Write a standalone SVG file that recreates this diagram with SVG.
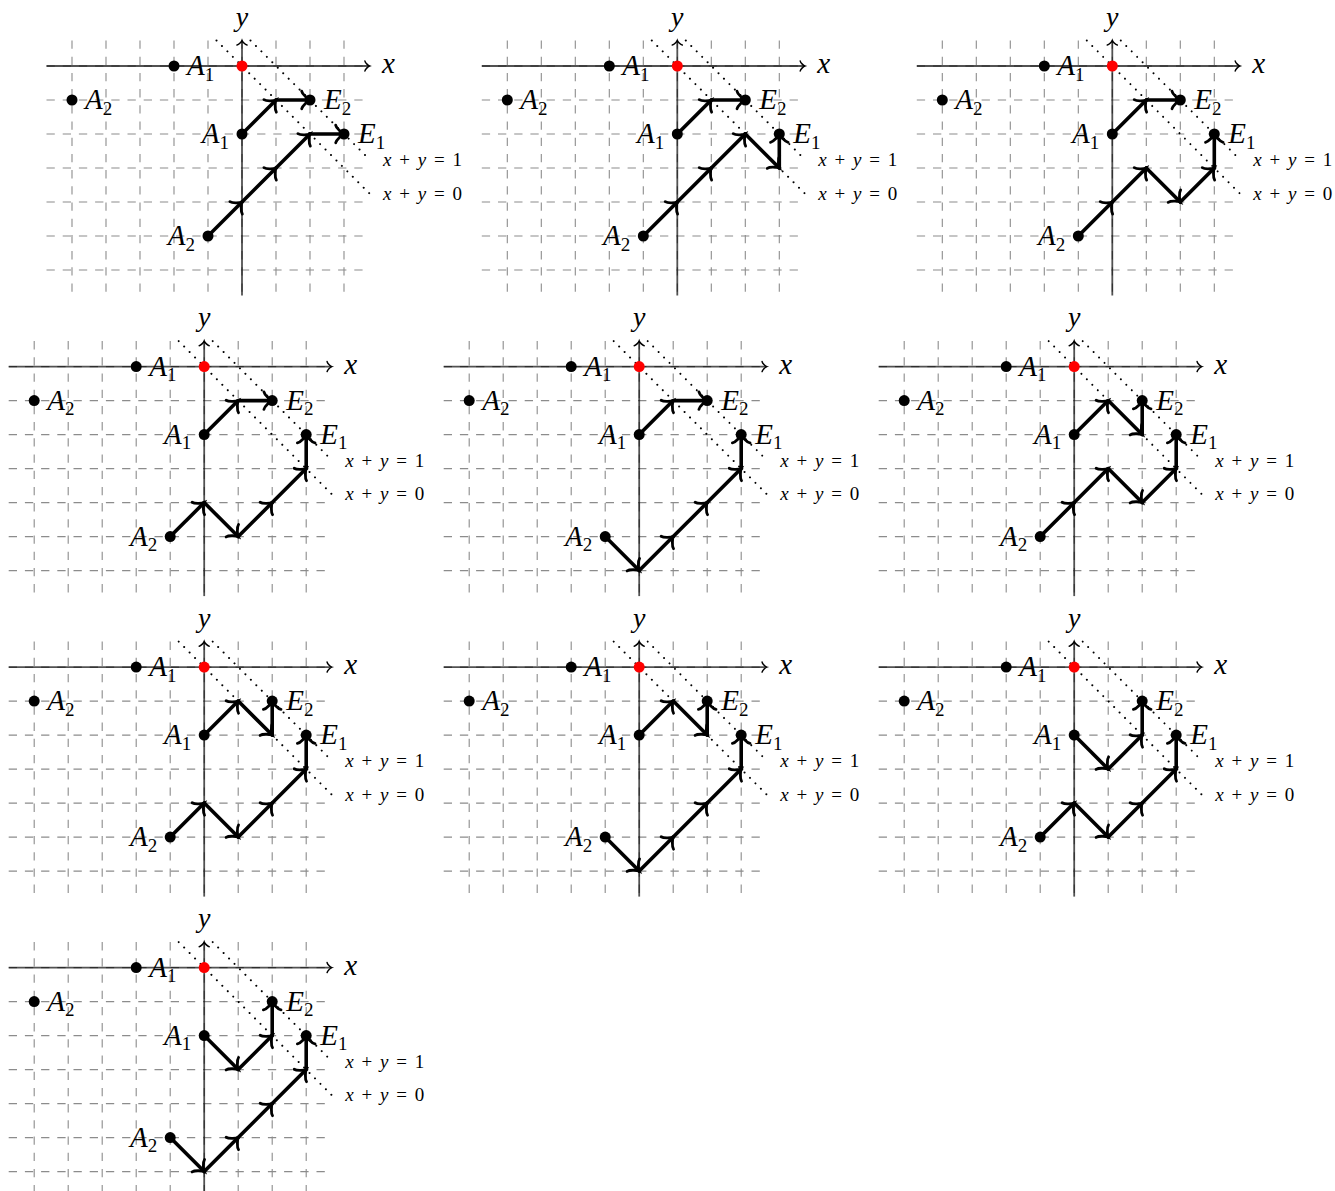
<svg xmlns="http://www.w3.org/2000/svg" width="1335" height="1191" viewBox="0 0 1335 1191" font-family="Liberation Serif">
<style>
.gr{stroke:#8c8c8c;stroke-width:1.1;stroke-dasharray:8.3 7.9;fill:none}
.ax{stroke:#000;stroke-opacity:0.68;stroke-width:1.8;fill:none}
.dt{stroke:#000;stroke-width:2;stroke-dasharray:0.01 7.7;stroke-linecap:round;fill:none}
.cn line{stroke:#000;stroke-width:3.6;stroke-linecap:round;marker-end:url(#ah)}
.pt{fill:#000}
.org{fill:#f00}
.lb{font-style:italic;font-size:29px;fill:#000}
.yl{font-style:italic;font-size:28px;fill:#000}
.sub{font-style:normal;font-size:19px}
.eq{font-size:19px;fill:#000}
.it{font-style:italic}
</style>
<defs>
<marker id="ah" markerUnits="userSpaceOnUse" orient="auto" overflow="visible" markerWidth="1" markerHeight="1" refX="0" refY="0">
<path d="M-8.3,-8.8 C-7.7,-5.5 -1.7,-0.6 0,0 C-1.7,0.6 -7.7,5.5 -8.3,8.8" fill="none" stroke="#000" stroke-width="2.8" stroke-linecap="round"/>
</marker>
<marker id="axh" markerUnits="userSpaceOnUse" orient="auto" overflow="visible" markerWidth="1" markerHeight="1" refX="0" refY="0">
<path d="M-4.6,-5 C-4.3,-3.1 -0.9,-0.3 0,0 C-0.9,0.3 -4.3,3.1 -4.6,5" fill="none" stroke="#000" stroke-width="1.5" stroke-linecap="round"/>
</marker>
<g id="base">
<path class="gr" d="M-195.5 0H127.5M-195.5 34H127.5M-195.5 68H127.5M-195.5 102H127.5M-195.5 136H127.5M-195.5 170H127.5M-195.5 204H127.5"/>
<path class="gr" d="M-170 -25.5V229.5M-136 -25.5V229.5M-102 -25.5V229.5M-68 -25.5V229.5M-34 -25.5V229.5M0 -25.5V229.5M34 -25.5V229.5M68 -25.5V229.5M102 -25.5V229.5"/>
<line class="ax" x1="-195.5" y1="0" x2="127.5" y2="0" marker-end="url(#axh)"/>
<line class="ax" x1="0" y1="229.5" x2="0" y2="-25.5" marker-end="url(#axh)"/>
<line class="dt" x1="-25.5" y1="-25.5" x2="127.5" y2="127.5"/>
<line class="dt" x1="8.5" y1="-25.5" x2="127.5" y2="93.5"/>
</g>
</defs>

<!-- Panel 1 -->
<g id="panel-1" transform="translate(242,66)" font-family="Liberation Serif">
<use href="#base"/>
<g id="p1-connectors" class="cn">
<line x1="0" y1="68" x2="34" y2="34"/><line x1="34" y1="34" x2="68" y2="34"/>
<line x1="-34" y1="170" x2="0" y2="136"/><line x1="0" y1="136" x2="34" y2="102"/><line x1="34" y1="102" x2="68" y2="68"/><line x1="68" y1="68" x2="102" y2="68"/>
</g>
<text class="lb" x="140" y="7">x</text><text class="yl" x="0" y="-40.5" text-anchor="middle">y</text>
<text class="eq" x="141" y="100" textLength="79" lengthAdjust="spacing"><tspan class="it">x</tspan> + <tspan class="it">y</tspan> = 1</text>
<text class="eq" x="141" y="133.5" textLength="79" lengthAdjust="spacing"><tspan class="it">x</tspan> + <tspan class="it">y</tspan> = 0</text>
<g id="p1-A1-axis"><circle class="pt" cx="-68" cy="0" r="5.5"/><text class="lb" x="-55" y="9">A<tspan class="sub" dy="5.5">1</tspan></text></g>
<g id="p1-A2-top"><circle class="pt" cx="-170" cy="34" r="5.5"/><text class="lb" x="-157" y="43">A<tspan class="sub" dy="5.5">2</tspan></text></g>
<g id="p1-A1"><circle class="pt" cx="0" cy="68" r="5.5"/><text class="lb" x="-13" y="77" text-anchor="end">A<tspan class="sub" dy="5.5">1</tspan></text></g>
<g id="p1-A2"><circle class="pt" cx="-34" cy="170" r="5.5"/><text class="lb" x="-47" y="179" text-anchor="end">A<tspan class="sub" dy="5.5">2</tspan></text></g>
<g id="p1-E2"><circle class="pt" cx="68" cy="34" r="5.5"/><text class="lb" x="82" y="43">E<tspan class="sub" dy="5.5">2</tspan></text></g>
<g id="p1-E1"><circle class="pt" cx="102" cy="68" r="5.5"/><text class="lb" x="116" y="77">E<tspan class="sub" dy="5.5">1</tspan></text></g>
<g id="p1-O"><circle class="org" cx="0" cy="0" r="5.5"/></g>
</g>

<!-- Panel 2 -->
<g id="panel-2" transform="translate(677.3,66)" font-family="Liberation Serif">
<use href="#base"/>
<g id="p2-connectors" class="cn">
<line x1="0" y1="68" x2="34" y2="34"/><line x1="34" y1="34" x2="68" y2="34"/>
<line x1="-34" y1="170" x2="0" y2="136"/><line x1="0" y1="136" x2="34" y2="102"/><line x1="34" y1="102" x2="68" y2="68"/><line x1="68" y1="68" x2="102" y2="102"/><line x1="102" y1="102" x2="102" y2="68"/>
</g>
<text class="lb" x="140" y="7">x</text><text class="yl" x="0" y="-40.5" text-anchor="middle">y</text>
<text class="eq" x="141" y="100" textLength="79" lengthAdjust="spacing"><tspan class="it">x</tspan> + <tspan class="it">y</tspan> = 1</text>
<text class="eq" x="141" y="133.5" textLength="79" lengthAdjust="spacing"><tspan class="it">x</tspan> + <tspan class="it">y</tspan> = 0</text>
<g id="p2-A1-axis"><circle class="pt" cx="-68" cy="0" r="5.5"/><text class="lb" x="-55" y="9">A<tspan class="sub" dy="5.5">1</tspan></text></g>
<g id="p2-A2-top"><circle class="pt" cx="-170" cy="34" r="5.5"/><text class="lb" x="-157" y="43">A<tspan class="sub" dy="5.5">2</tspan></text></g>
<g id="p2-A1"><circle class="pt" cx="0" cy="68" r="5.5"/><text class="lb" x="-13" y="77" text-anchor="end">A<tspan class="sub" dy="5.5">1</tspan></text></g>
<g id="p2-A2"><circle class="pt" cx="-34" cy="170" r="5.5"/><text class="lb" x="-47" y="179" text-anchor="end">A<tspan class="sub" dy="5.5">2</tspan></text></g>
<g id="p2-E2"><circle class="pt" cx="68" cy="34" r="5.5"/><text class="lb" x="82" y="43">E<tspan class="sub" dy="5.5">2</tspan></text></g>
<g id="p2-E1"><circle class="pt" cx="102" cy="68" r="5.5"/><text class="lb" x="116" y="77">E<tspan class="sub" dy="5.5">1</tspan></text></g>
<g id="p2-O"><circle class="org" cx="0" cy="0" r="5.5"/></g>
</g>

<!-- Panel 3 -->
<g id="panel-3" transform="translate(1112.3,66)" font-family="Liberation Serif">
<use href="#base"/>
<g id="p3-connectors" class="cn">
<line x1="0" y1="68" x2="34" y2="34"/><line x1="34" y1="34" x2="68" y2="34"/>
<line x1="-34" y1="170" x2="0" y2="136"/><line x1="0" y1="136" x2="34" y2="102"/><line x1="34" y1="102" x2="68" y2="136"/><line x1="68" y1="136" x2="102" y2="102"/><line x1="102" y1="102" x2="102" y2="68"/>
</g>
<text class="lb" x="140" y="7">x</text><text class="yl" x="0" y="-40.5" text-anchor="middle">y</text>
<text class="eq" x="141" y="100" textLength="79" lengthAdjust="spacing"><tspan class="it">x</tspan> + <tspan class="it">y</tspan> = 1</text>
<text class="eq" x="141" y="133.5" textLength="79" lengthAdjust="spacing"><tspan class="it">x</tspan> + <tspan class="it">y</tspan> = 0</text>
<g id="p3-A1-axis"><circle class="pt" cx="-68" cy="0" r="5.5"/><text class="lb" x="-55" y="9">A<tspan class="sub" dy="5.5">1</tspan></text></g>
<g id="p3-A2-top"><circle class="pt" cx="-170" cy="34" r="5.5"/><text class="lb" x="-157" y="43">A<tspan class="sub" dy="5.5">2</tspan></text></g>
<g id="p3-A1"><circle class="pt" cx="0" cy="68" r="5.5"/><text class="lb" x="-13" y="77" text-anchor="end">A<tspan class="sub" dy="5.5">1</tspan></text></g>
<g id="p3-A2"><circle class="pt" cx="-34" cy="170" r="5.5"/><text class="lb" x="-47" y="179" text-anchor="end">A<tspan class="sub" dy="5.5">2</tspan></text></g>
<g id="p3-E2"><circle class="pt" cx="68" cy="34" r="5.5"/><text class="lb" x="82" y="43">E<tspan class="sub" dy="5.5">2</tspan></text></g>
<g id="p3-E1"><circle class="pt" cx="102" cy="68" r="5.5"/><text class="lb" x="116" y="77">E<tspan class="sub" dy="5.5">1</tspan></text></g>
<g id="p3-O"><circle class="org" cx="0" cy="0" r="5.5"/></g>
</g>

<!-- Panel 4 -->
<g id="panel-4" transform="translate(204.2,366.6)" font-family="Liberation Serif">
<use href="#base"/>
<g id="p4-connectors" class="cn">
<line x1="0" y1="68" x2="34" y2="34"/><line x1="34" y1="34" x2="68" y2="34"/>
<line x1="-34" y1="170" x2="0" y2="136"/><line x1="0" y1="136" x2="34" y2="170"/><line x1="34" y1="170" x2="68" y2="136"/><line x1="68" y1="136" x2="102" y2="102"/><line x1="102" y1="102" x2="102" y2="68"/>
</g>
<text class="lb" x="140" y="7">x</text><text class="yl" x="0" y="-40.5" text-anchor="middle">y</text>
<text class="eq" x="141" y="100" textLength="79" lengthAdjust="spacing"><tspan class="it">x</tspan> + <tspan class="it">y</tspan> = 1</text>
<text class="eq" x="141" y="133.5" textLength="79" lengthAdjust="spacing"><tspan class="it">x</tspan> + <tspan class="it">y</tspan> = 0</text>
<g id="p4-A1-axis"><circle class="pt" cx="-68" cy="0" r="5.5"/><text class="lb" x="-55" y="9">A<tspan class="sub" dy="5.5">1</tspan></text></g>
<g id="p4-A2-top"><circle class="pt" cx="-170" cy="34" r="5.5"/><text class="lb" x="-157" y="43">A<tspan class="sub" dy="5.5">2</tspan></text></g>
<g id="p4-A1"><circle class="pt" cx="0" cy="68" r="5.5"/><text class="lb" x="-13" y="77" text-anchor="end">A<tspan class="sub" dy="5.5">1</tspan></text></g>
<g id="p4-A2"><circle class="pt" cx="-34" cy="170" r="5.5"/><text class="lb" x="-47" y="179" text-anchor="end">A<tspan class="sub" dy="5.5">2</tspan></text></g>
<g id="p4-E2"><circle class="pt" cx="68" cy="34" r="5.5"/><text class="lb" x="82" y="43">E<tspan class="sub" dy="5.5">2</tspan></text></g>
<g id="p4-E1"><circle class="pt" cx="102" cy="68" r="5.5"/><text class="lb" x="116" y="77">E<tspan class="sub" dy="5.5">1</tspan></text></g>
<g id="p4-O"><circle class="org" cx="0" cy="0" r="5.5"/></g>
</g>

<!-- Panel 5 -->
<g id="panel-5" transform="translate(639.2,366.6)" font-family="Liberation Serif">
<use href="#base"/>
<g id="p5-connectors" class="cn">
<line x1="0" y1="68" x2="34" y2="34"/><line x1="34" y1="34" x2="68" y2="34"/>
<line x1="-34" y1="170" x2="0" y2="204"/><line x1="0" y1="204" x2="34" y2="170"/><line x1="34" y1="170" x2="68" y2="136"/><line x1="68" y1="136" x2="102" y2="102"/><line x1="102" y1="102" x2="102" y2="68"/>
</g>
<text class="lb" x="140" y="7">x</text><text class="yl" x="0" y="-40.5" text-anchor="middle">y</text>
<text class="eq" x="141" y="100" textLength="79" lengthAdjust="spacing"><tspan class="it">x</tspan> + <tspan class="it">y</tspan> = 1</text>
<text class="eq" x="141" y="133.5" textLength="79" lengthAdjust="spacing"><tspan class="it">x</tspan> + <tspan class="it">y</tspan> = 0</text>
<g id="p5-A1-axis"><circle class="pt" cx="-68" cy="0" r="5.5"/><text class="lb" x="-55" y="9">A<tspan class="sub" dy="5.5">1</tspan></text></g>
<g id="p5-A2-top"><circle class="pt" cx="-170" cy="34" r="5.5"/><text class="lb" x="-157" y="43">A<tspan class="sub" dy="5.5">2</tspan></text></g>
<g id="p5-A1"><circle class="pt" cx="0" cy="68" r="5.5"/><text class="lb" x="-13" y="77" text-anchor="end">A<tspan class="sub" dy="5.5">1</tspan></text></g>
<g id="p5-A2"><circle class="pt" cx="-34" cy="170" r="5.5"/><text class="lb" x="-47" y="179" text-anchor="end">A<tspan class="sub" dy="5.5">2</tspan></text></g>
<g id="p5-E2"><circle class="pt" cx="68" cy="34" r="5.5"/><text class="lb" x="82" y="43">E<tspan class="sub" dy="5.5">2</tspan></text></g>
<g id="p5-E1"><circle class="pt" cx="102" cy="68" r="5.5"/><text class="lb" x="116" y="77">E<tspan class="sub" dy="5.5">1</tspan></text></g>
<g id="p5-O"><circle class="org" cx="0" cy="0" r="5.5"/></g>
</g>

<!-- Panel 6 -->
<g id="panel-6" transform="translate(1074.2,366.6)" font-family="Liberation Serif">
<use href="#base"/>
<g id="p6-connectors" class="cn">
<line x1="0" y1="68" x2="34" y2="34"/><line x1="34" y1="34" x2="68" y2="68"/><line x1="68" y1="68" x2="68" y2="34"/>
<line x1="-34" y1="170" x2="0" y2="136"/><line x1="0" y1="136" x2="34" y2="102"/><line x1="34" y1="102" x2="68" y2="136"/><line x1="68" y1="136" x2="102" y2="102"/><line x1="102" y1="102" x2="102" y2="68"/>
</g>
<text class="lb" x="140" y="7">x</text><text class="yl" x="0" y="-40.5" text-anchor="middle">y</text>
<text class="eq" x="141" y="100" textLength="79" lengthAdjust="spacing"><tspan class="it">x</tspan> + <tspan class="it">y</tspan> = 1</text>
<text class="eq" x="141" y="133.5" textLength="79" lengthAdjust="spacing"><tspan class="it">x</tspan> + <tspan class="it">y</tspan> = 0</text>
<g id="p6-A1-axis"><circle class="pt" cx="-68" cy="0" r="5.5"/><text class="lb" x="-55" y="9">A<tspan class="sub" dy="5.5">1</tspan></text></g>
<g id="p6-A2-top"><circle class="pt" cx="-170" cy="34" r="5.5"/><text class="lb" x="-157" y="43">A<tspan class="sub" dy="5.5">2</tspan></text></g>
<g id="p6-A1"><circle class="pt" cx="0" cy="68" r="5.5"/><text class="lb" x="-13" y="77" text-anchor="end">A<tspan class="sub" dy="5.5">1</tspan></text></g>
<g id="p6-A2"><circle class="pt" cx="-34" cy="170" r="5.5"/><text class="lb" x="-47" y="179" text-anchor="end">A<tspan class="sub" dy="5.5">2</tspan></text></g>
<g id="p6-E2"><circle class="pt" cx="68" cy="34" r="5.5"/><text class="lb" x="82" y="43">E<tspan class="sub" dy="5.5">2</tspan></text></g>
<g id="p6-E1"><circle class="pt" cx="102" cy="68" r="5.5"/><text class="lb" x="116" y="77">E<tspan class="sub" dy="5.5">1</tspan></text></g>
<g id="p6-O"><circle class="org" cx="0" cy="0" r="5.5"/></g>
</g>

<!-- Panel 7 -->
<g id="panel-7" transform="translate(204.2,667.1)" font-family="Liberation Serif">
<use href="#base"/>
<g id="p7-connectors" class="cn">
<line x1="0" y1="68" x2="34" y2="34"/><line x1="34" y1="34" x2="68" y2="68"/><line x1="68" y1="68" x2="68" y2="34"/>
<line x1="-34" y1="170" x2="0" y2="136"/><line x1="0" y1="136" x2="34" y2="170"/><line x1="34" y1="170" x2="68" y2="136"/><line x1="68" y1="136" x2="102" y2="102"/><line x1="102" y1="102" x2="102" y2="68"/>
</g>
<text class="lb" x="140" y="7">x</text><text class="yl" x="0" y="-40.5" text-anchor="middle">y</text>
<text class="eq" x="141" y="100" textLength="79" lengthAdjust="spacing"><tspan class="it">x</tspan> + <tspan class="it">y</tspan> = 1</text>
<text class="eq" x="141" y="133.5" textLength="79" lengthAdjust="spacing"><tspan class="it">x</tspan> + <tspan class="it">y</tspan> = 0</text>
<g id="p7-A1-axis"><circle class="pt" cx="-68" cy="0" r="5.5"/><text class="lb" x="-55" y="9">A<tspan class="sub" dy="5.5">1</tspan></text></g>
<g id="p7-A2-top"><circle class="pt" cx="-170" cy="34" r="5.5"/><text class="lb" x="-157" y="43">A<tspan class="sub" dy="5.5">2</tspan></text></g>
<g id="p7-A1"><circle class="pt" cx="0" cy="68" r="5.5"/><text class="lb" x="-13" y="77" text-anchor="end">A<tspan class="sub" dy="5.5">1</tspan></text></g>
<g id="p7-A2"><circle class="pt" cx="-34" cy="170" r="5.5"/><text class="lb" x="-47" y="179" text-anchor="end">A<tspan class="sub" dy="5.5">2</tspan></text></g>
<g id="p7-E2"><circle class="pt" cx="68" cy="34" r="5.5"/><text class="lb" x="82" y="43">E<tspan class="sub" dy="5.5">2</tspan></text></g>
<g id="p7-E1"><circle class="pt" cx="102" cy="68" r="5.5"/><text class="lb" x="116" y="77">E<tspan class="sub" dy="5.5">1</tspan></text></g>
<g id="p7-O"><circle class="org" cx="0" cy="0" r="5.5"/></g>
</g>

<!-- Panel 8 -->
<g id="panel-8" transform="translate(639.2,667.1)" font-family="Liberation Serif">
<use href="#base"/>
<g id="p8-connectors" class="cn">
<line x1="0" y1="68" x2="34" y2="34"/><line x1="34" y1="34" x2="68" y2="68"/><line x1="68" y1="68" x2="68" y2="34"/>
<line x1="-34" y1="170" x2="0" y2="204"/><line x1="0" y1="204" x2="34" y2="170"/><line x1="34" y1="170" x2="68" y2="136"/><line x1="68" y1="136" x2="102" y2="102"/><line x1="102" y1="102" x2="102" y2="68"/>
</g>
<text class="lb" x="140" y="7">x</text><text class="yl" x="0" y="-40.5" text-anchor="middle">y</text>
<text class="eq" x="141" y="100" textLength="79" lengthAdjust="spacing"><tspan class="it">x</tspan> + <tspan class="it">y</tspan> = 1</text>
<text class="eq" x="141" y="133.5" textLength="79" lengthAdjust="spacing"><tspan class="it">x</tspan> + <tspan class="it">y</tspan> = 0</text>
<g id="p8-A1-axis"><circle class="pt" cx="-68" cy="0" r="5.5"/><text class="lb" x="-55" y="9">A<tspan class="sub" dy="5.5">1</tspan></text></g>
<g id="p8-A2-top"><circle class="pt" cx="-170" cy="34" r="5.5"/><text class="lb" x="-157" y="43">A<tspan class="sub" dy="5.5">2</tspan></text></g>
<g id="p8-A1"><circle class="pt" cx="0" cy="68" r="5.5"/><text class="lb" x="-13" y="77" text-anchor="end">A<tspan class="sub" dy="5.5">1</tspan></text></g>
<g id="p8-A2"><circle class="pt" cx="-34" cy="170" r="5.5"/><text class="lb" x="-47" y="179" text-anchor="end">A<tspan class="sub" dy="5.5">2</tspan></text></g>
<g id="p8-E2"><circle class="pt" cx="68" cy="34" r="5.5"/><text class="lb" x="82" y="43">E<tspan class="sub" dy="5.5">2</tspan></text></g>
<g id="p8-E1"><circle class="pt" cx="102" cy="68" r="5.5"/><text class="lb" x="116" y="77">E<tspan class="sub" dy="5.5">1</tspan></text></g>
<g id="p8-O"><circle class="org" cx="0" cy="0" r="5.5"/></g>
</g>

<!-- Panel 9 -->
<g id="panel-9" transform="translate(1074.2,667.1)" font-family="Liberation Serif">
<use href="#base"/>
<g id="p9-connectors" class="cn">
<line x1="0" y1="68" x2="34" y2="102"/><line x1="34" y1="102" x2="68" y2="68"/><line x1="68" y1="68" x2="68" y2="34"/>
<line x1="-34" y1="170" x2="0" y2="136"/><line x1="0" y1="136" x2="34" y2="170"/><line x1="34" y1="170" x2="68" y2="136"/><line x1="68" y1="136" x2="102" y2="102"/><line x1="102" y1="102" x2="102" y2="68"/>
</g>
<text class="lb" x="140" y="7">x</text><text class="yl" x="0" y="-40.5" text-anchor="middle">y</text>
<text class="eq" x="141" y="100" textLength="79" lengthAdjust="spacing"><tspan class="it">x</tspan> + <tspan class="it">y</tspan> = 1</text>
<text class="eq" x="141" y="133.5" textLength="79" lengthAdjust="spacing"><tspan class="it">x</tspan> + <tspan class="it">y</tspan> = 0</text>
<g id="p9-A1-axis"><circle class="pt" cx="-68" cy="0" r="5.5"/><text class="lb" x="-55" y="9">A<tspan class="sub" dy="5.5">1</tspan></text></g>
<g id="p9-A2-top"><circle class="pt" cx="-170" cy="34" r="5.5"/><text class="lb" x="-157" y="43">A<tspan class="sub" dy="5.5">2</tspan></text></g>
<g id="p9-A1"><circle class="pt" cx="0" cy="68" r="5.5"/><text class="lb" x="-13" y="77" text-anchor="end">A<tspan class="sub" dy="5.5">1</tspan></text></g>
<g id="p9-A2"><circle class="pt" cx="-34" cy="170" r="5.5"/><text class="lb" x="-47" y="179" text-anchor="end">A<tspan class="sub" dy="5.5">2</tspan></text></g>
<g id="p9-E2"><circle class="pt" cx="68" cy="34" r="5.5"/><text class="lb" x="82" y="43">E<tspan class="sub" dy="5.5">2</tspan></text></g>
<g id="p9-E1"><circle class="pt" cx="102" cy="68" r="5.5"/><text class="lb" x="116" y="77">E<tspan class="sub" dy="5.5">1</tspan></text></g>
<g id="p9-O"><circle class="org" cx="0" cy="0" r="5.5"/></g>
</g>

<!-- Panel 10 -->
<g id="panel-10" transform="translate(204.2,967.6)" font-family="Liberation Serif">
<use href="#base"/>
<g id="p10-connectors" class="cn">
<line x1="0" y1="68" x2="34" y2="102"/><line x1="34" y1="102" x2="68" y2="68"/><line x1="68" y1="68" x2="68" y2="34"/>
<line x1="-34" y1="170" x2="0" y2="204"/><line x1="0" y1="204" x2="34" y2="170"/><line x1="34" y1="170" x2="68" y2="136"/><line x1="68" y1="136" x2="102" y2="102"/><line x1="102" y1="102" x2="102" y2="68"/>
</g>
<text class="lb" x="140" y="7">x</text><text class="yl" x="0" y="-40.5" text-anchor="middle">y</text>
<text class="eq" x="141" y="100" textLength="79" lengthAdjust="spacing"><tspan class="it">x</tspan> + <tspan class="it">y</tspan> = 1</text>
<text class="eq" x="141" y="133.5" textLength="79" lengthAdjust="spacing"><tspan class="it">x</tspan> + <tspan class="it">y</tspan> = 0</text>
<g id="p10-A1-axis"><circle class="pt" cx="-68" cy="0" r="5.5"/><text class="lb" x="-55" y="9">A<tspan class="sub" dy="5.5">1</tspan></text></g>
<g id="p10-A2-top"><circle class="pt" cx="-170" cy="34" r="5.5"/><text class="lb" x="-157" y="43">A<tspan class="sub" dy="5.5">2</tspan></text></g>
<g id="p10-A1"><circle class="pt" cx="0" cy="68" r="5.5"/><text class="lb" x="-13" y="77" text-anchor="end">A<tspan class="sub" dy="5.5">1</tspan></text></g>
<g id="p10-A2"><circle class="pt" cx="-34" cy="170" r="5.5"/><text class="lb" x="-47" y="179" text-anchor="end">A<tspan class="sub" dy="5.5">2</tspan></text></g>
<g id="p10-E2"><circle class="pt" cx="68" cy="34" r="5.5"/><text class="lb" x="82" y="43">E<tspan class="sub" dy="5.5">2</tspan></text></g>
<g id="p10-E1"><circle class="pt" cx="102" cy="68" r="5.5"/><text class="lb" x="116" y="77">E<tspan class="sub" dy="5.5">1</tspan></text></g>
<g id="p10-O"><circle class="org" cx="0" cy="0" r="5.5"/></g>
</g>
</svg>
